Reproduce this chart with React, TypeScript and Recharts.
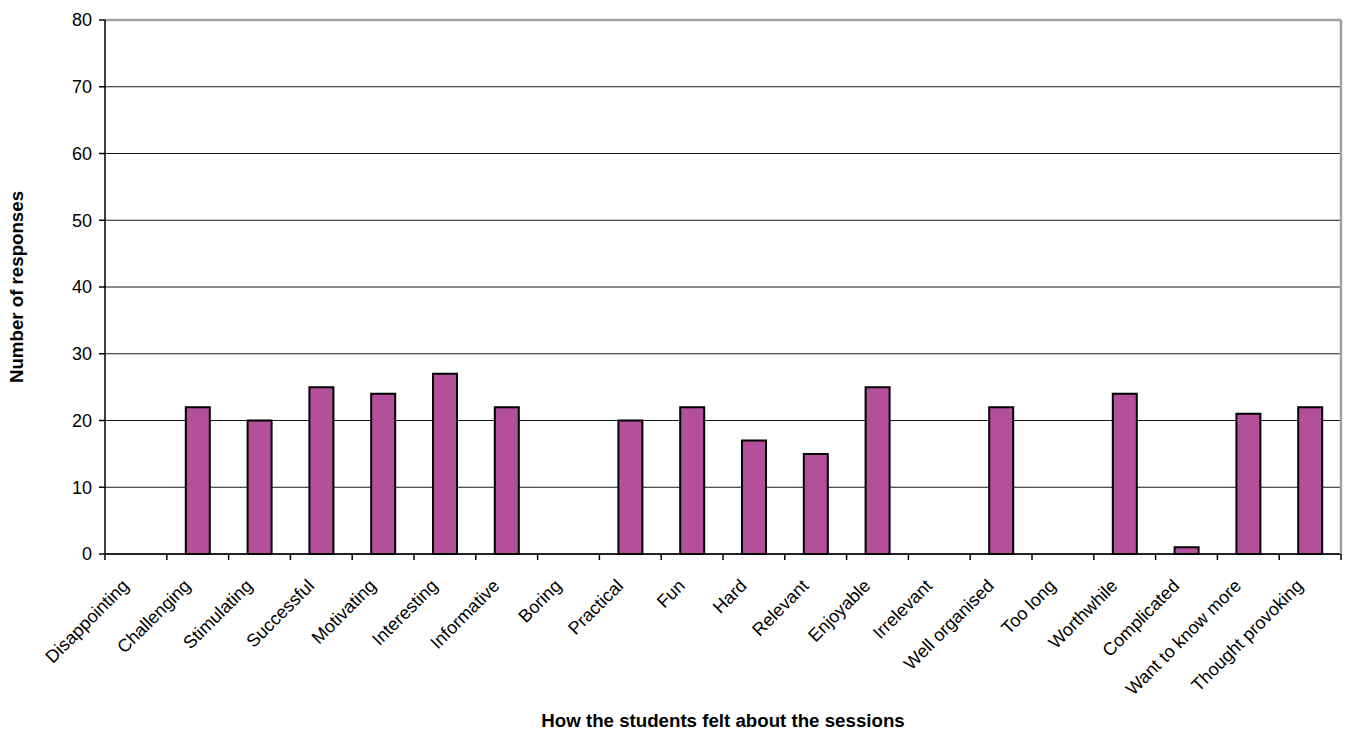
import React from "react";
import {
  BarChart,
  Bar,
  XAxis,
  YAxis,
  CartesianGrid,
  ReferenceLine,
  Label,
} from "recharts";

// survey words and how many students picked each one
const feelings = [
  "Disappointing",
  "Challenging",
  "Stimulating",
  "Successful",
  "Motivating",
  "Interesting",
  "Informative",
  "Boring",
  "Practical",
  "Fun",
  "Hard",
  "Relevant",
  "Enjoyable",
  "Irrelevant",
  "Well organised",
  "Too long",
  "Worthwhile",
  "Complicated",
  "Want to know more",
  "Thought provoking",
];
const responses = [0, 22, 20, 25, 24, 27, 22, 0, 20, 22, 17, 15, 25, 0, 22, 0, 24, 1, 21, 22];
const yTicks = [0, 10, 20, 30, 40, 50, 60, 70, 80];

const data = feelings.map((name, i) => ({ name, count: responses[i] }));

const W = 1354;
const H = 733;
const LEFT = 105;
const RIGHT = 13;
const TOP = 20;
const X_AXIS_H = 179;
const STEP = (W - LEFT - RIGHT) / feelings.length;
const FONT = "'Liberation Sans', Arial, Helvetica, sans-serif";

const CategoryTick = (props: any) => {
  const { x, y, payload, index } = props;
  const left = x - STEP / 2;
  return (
    <g>
      <line x1={left} y1={y} x2={left} y2={y + 6} stroke="#000" strokeWidth={1.5} />
      {index === feelings.length - 1 && (
        <line x1={x + STEP / 2} y1={y} x2={x + STEP / 2} y2={y + 6} stroke="#000" strokeWidth={1.5} />
      )}
      <g transform={`translate(${x - 6},${y + 33}) rotate(-45)`}>
        <text x={0} y={0} textAnchor="end" fontSize={18} fontFamily={FONT} fill="#000">
          {payload.value}
        </text>
      </g>
    </g>
  );
};

export default function App() {
  return (
    <div style={{ position: "fixed", left: 0, top: 0, background: "#fff" }}>
      <BarChart
        width={W}
        height={H}
        data={data}
        margin={{ top: TOP, right: 0, left: 0, bottom: 0 }}
        barCategoryGap={0}
      >
        <CartesianGrid vertical={false} stroke="#1a1a1a" strokeWidth={1} />
        <XAxis
          dataKey="name"
          height={X_AXIS_H}
          interval={0}
          tickLine={false}
          tickSize={0}
          tickMargin={0}
          axisLine={{ stroke: "#000", strokeWidth: 1.5 }}
          tick={<CategoryTick />}
        >
          <Label
            content={() => (
              <text
                x={LEFT + (W - LEFT - RIGHT) / 2}
                y={727}
                textAnchor="middle"
                fontSize={18.7}
                fontWeight="bold"
                fontFamily={FONT}
                fill="#000"
              >
                How the students felt about the sessions
              </text>
            )}
          />
        </XAxis>
        <YAxis
          width={LEFT}
          domain={[0, 80]}
          ticks={yTicks}
          interval={0}
          tickSize={6}
          tickMargin={7}
          axisLine={{ stroke: "#000", strokeWidth: 1.5 }}
          tickLine={{ stroke: "#000", strokeWidth: 1.5 }}
          tick={{ fontSize: 18, fontFamily: FONT, fill: "#000" }}
        >
          <Label
            content={() => (
              <text
                transform="translate(23,287) rotate(-90)"
                textAnchor="middle"
                fontSize={18.7}
                fontWeight="bold"
                fontFamily={FONT}
                fill="#000"
              >
                Number of responses
              </text>
            )}
          />
        </YAxis>
        <YAxis
          yAxisId="frame"
          orientation="right"
          width={RIGHT}
          domain={[0, 80]}
          tick={false}
          tickLine={false}
          axisLine={{ stroke: "#a0a0a0", strokeWidth: 2.5 }}
        />
        <ReferenceLine y={80} stroke="#a0a0a0" strokeWidth={2.5} />
        <Bar
          dataKey="count"
          fill="#b44f9c"
          stroke="#000"
          strokeWidth={2}
          barSize={24}
          isAnimationActive={false}
        />
      </BarChart>
    </div>
  );
}
